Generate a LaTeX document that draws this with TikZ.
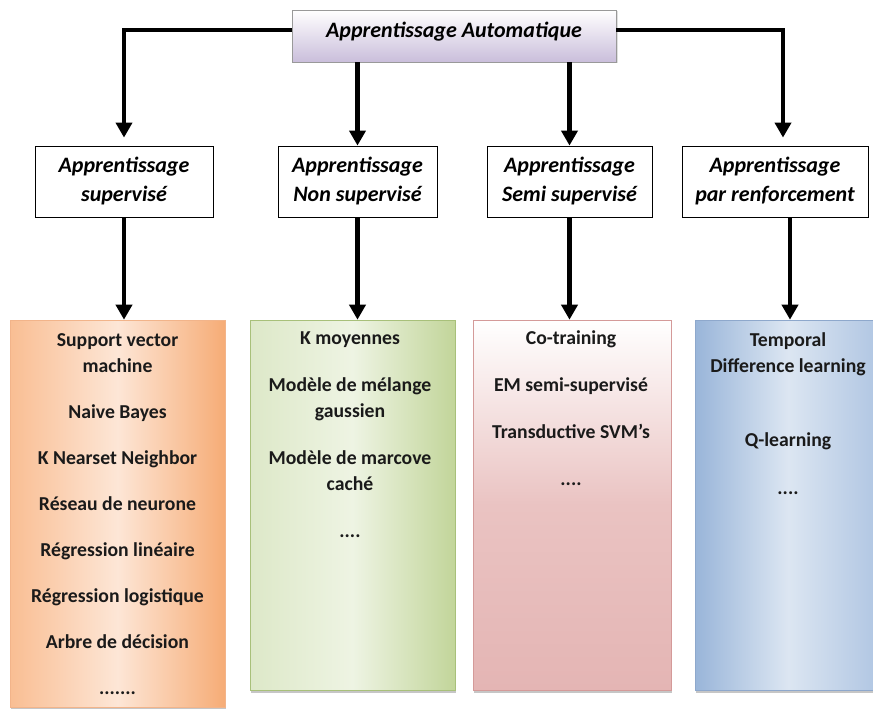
\documentclass[tikz,border=0pt]{standalone}
\usepackage{fontspec}
\setmainfont{Carlito}
\usetikzlibrary{arrows.meta,shadows}

\definecolor{lavender}{HTML}{CABEDB}
\definecolor{peachL}{HTML}{F9BE93}
\definecolor{peachM}{HTML}{FDE6D6}
\definecolor{peachR}{HTML}{F6AC76}
\definecolor{peachB}{HTML}{F2B48A}
\definecolor{sageL}{HTML}{DDE8C8}
\definecolor{sageM}{HTML}{EEF4E3}
\definecolor{sageR}{HTML}{C2D59A}
\definecolor{sageB}{HTML}{A8C07A}
\definecolor{roseB}{HTML}{E4B5B4}
\definecolor{roseM}{HTML}{EAC3C2}
\definecolor{roseD}{HTML}{D49A99}
\definecolor{skyL}{HTML}{99B5D9}
\definecolor{skyM}{HTML}{DCE6F2}
\definecolor{skyR}{HTML}{AFC5E2}
\definecolor{skyD}{HTML}{8EA8CC}
\definecolor{ink}{HTML}{1A1A1A}

\begin{document}
\begin{tikzpicture}[x=1pt,y=-1pt,
  head/.style={draw=black!40, top color=white, bottom color=lavender,
    minimum width=324pt, minimum height=52pt, inner sep=0pt,
    text height=13pt, text depth=9pt,
    drop shadow={shadow xshift=1.5pt, shadow yshift=-1.5pt, opacity=0.25},
    font=\fontsize{22}{26}\selectfont\bfseries\itshape},
  family/.style={draw=black, line width=0.8pt, fill=white,
    minimum height=71pt, inner sep=0pt, align=center,
    font=\fontsize{22}{29}\selectfont\bfseries\itshape},
  panel/.style={draw=#1, line width=0.6pt, inner sep=0pt,
    drop shadow={shadow xshift=0.8pt, shadow yshift=-2.5pt, opacity=0.45}},
  items/.style={anchor=north, align=center, inner sep=0pt, text=ink,
    font=\fontsize{19.7}{26}\selectfont\bfseries},
  link/.style={line width=4.5pt, -{Triangle[width=16pt,length=15pt]}}
]
\useasboundingbox (0,0) rectangle (873,709);
\clip (0,0) rectangle (873,709);

% root of the hierarchy
\node[head] (top) at (454,36) {Apprentissage Automatique};

% the four learning families
\node[family, minimum width=178pt] (s1) at (124,181.5)   {Apprentissage\\supervisé};
\node[family, minimum width=159pt] (s2) at (357.5,181.5) {Apprentissage\\Non supervisé};
\node[family, minimum width=165pt] (s3) at (569.5,181.5) {Apprentissage\\Semi supervisé};
\node[family, minimum width=186pt] (s4) at (775,181.5)   {Apprentissage\\par renforcement};

% shaded panels listing the methods
\node[panel=peachB, left color=peachL, right color=peachR, middle color=peachM,
      minimum width=215pt, minimum height=387pt] (b1) at (117.5,513.5) {};
\node[panel=sageB, left color=sageL, right color=sageR, middle color=sageM,
      minimum width=205pt, minimum height=370pt] (b2) at (352.5,505) {};
\node[panel=roseD, top color=white, bottom color=roseB, middle color=roseM,
      minimum width=198pt, minimum height=370pt] (b3) at (572,505) {};
\node[panel=skyD, left color=skyL, right color=skyR, middle color=skyM,
      minimum width=186pt, minimum height=370pt] (b4) at (788,505) {};

% method lists; each starts with an 18pt strut so the first baseline sits 18pt below the anchor
\node[items] (t1) at (117.5,328) {\rule{0pt}{18pt}Support vector\\machine\\[20pt]Naive Bayes\\[20pt]K Nearset Neighbor\\[20pt]Réseau de neurone\\[20pt]Régression linéaire\\[20pt]Régression logistique\\[20pt]Arbre de décision\\[20pt].......};
\node[items] (t2) at (350,326) {\rule{0pt}{18pt}K moyennes\\[21pt]Modèle de mélange\\gaussien\\[21pt]Modèle de marcove\\caché\\[21pt]....};
\node[items] (t3) at (571,326) {\rule{0pt}{18pt}Co-training\\[21pt]EM semi-supervisé\\[21pt]Transductive SVM’s\\[21pt]....};
\node[items] (t4) at (788,328) {\rule{0pt}{18pt}Temporal\\Difference learning\\[48pt]Q-learning\\[22pt]....};

% connectors
\draw[link, shorten >=8pt] ([yshift=6pt]top.west) -| (s1.north);
\draw[link, shorten >=8pt] ([yshift=6pt]top.east) -| ([xshift=8pt]s4.north);
\draw[link] (top.south -| s2.north) -- (s2.north);
\draw[link] (top.south -| s3.north) -- (s3.north);

\draw[link] (s1.south) -- (s1.south |- b1.north);
\draw[link] (s2.south) -- (s2.south |- b2.north);
\draw[link] (s3.south) -- (s3.south |- b3.north);
\draw[link] ([xshift=15pt]s4.south) -- ([xshift=15pt]s4.south |- b4.north);
\end{tikzpicture}
\end{document}
